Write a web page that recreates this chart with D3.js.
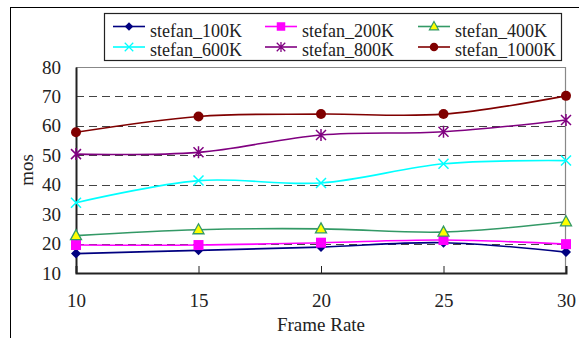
<!DOCTYPE html>
<html>
<head>
<meta charset="utf-8">
<script src="https://cdn.jsdelivr.net/npm/d3@7"></script>
<style>
  body { margin: 0; background: #fff; }
  svg text { font-family: "Liberation Serif", "DejaVu Serif", serif; fill: #222; }
</style>
</head>
<body>
<div id="chart"></div>
<script>
var frameRates = [10, 15, 20, 25, 30];
var yTicks = [10, 20, 30, 40, 50, 60, 70, 80];
var seriesNames = ["stefan_100K", "stefan_200K", "stefan_400K", "stefan_600K", "stefan_800K", "stefan_1000K"];

var s100K = [16.6, 17.7, 18.8, 20.3, 17.1];
var s200K = [19.5, 19.5, 20.3, 21.2, 19.8];
var s400K = [22.7, 24.7, 25.0, 23.9, 27.4];
var s600K = [33.9, 41.4, 40.6, 47.1, 48.2];
var s800K = [50.4, 51.0, 56.9, 58.0, 62.0];
var s1000K = [57.8, 63.2, 64.0, 64.0, 70.2];

var W = 579, H = 338;
var margin = {top: 67, right: 13, bottom: 65, left: 76},
    width = W - margin.left - margin.right,
    height = H - margin.top - margin.bottom;

var svg = d3.select("#chart")
  .append("svg")
    .attr("width", W)
    .attr("height", H);

// outer frame
svg.append("rect")
  .attr("x", 10.5).attr("y", 7.5)
  .attr("width", 580).attr("height", 340)
  .attr("fill", "none").attr("stroke", "#000").attr("stroke-width", 1);

var g = svg.append("g")
  .attr("transform", "translate(" + margin.left + "," + margin.top + ")");

var x = d3.scaleLinear().domain([10, 30]).range([0, width]);
var y = d3.scaleLinear().domain([10, 80]).range([height, 0]);

// dashed grid
g.selectAll(".grid")
  .data(yTicks.filter(function(d){ return d > 10 && d < 80; }))
  .enter().append("line")
    .attr("x1", 0).attr("x2", width)
    .attr("y1", function(d){ return Math.round(y(d)) + 0.5; })
    .attr("y2", function(d){ return Math.round(y(d)) + 0.5; })
    .attr("stroke", "#444").attr("stroke-width", 1.2)
    .attr("stroke-dasharray", "8,5");

// top and right frame of plot
g.append("line").attr("x1", 0).attr("x2", width).attr("y1", 0.5).attr("y2", 0.5)
  .attr("stroke", "#888").attr("stroke-width", 1.2);
g.append("line").attr("x1", width - 0.5).attr("x2", width - 0.5).attr("y1", 0).attr("y2", height)
  .attr("stroke", "#888").attr("stroke-width", 1.2);

// axes
var xAxis = g.append("g")
  .attr("transform", "translate(0," + height + ")")
  .call(d3.axisBottom(x).tickValues(frameRates).tickSize(-7).tickPadding(21).tickFormat(d3.format("d")));
xAxis.attr("font-family", null);
xAxis.select(".domain").attr("stroke", "#222").attr("stroke-width", 2);
xAxis.selectAll(".tick line").attr("stroke", "#222");
xAxis.selectAll(".tick text").style("font-size", "19px");

var yAxis = g.append("g")
  .call(d3.axisLeft(y).tickValues(yTicks).tickSize(0).tickPadding(15));
yAxis.attr("font-family", null);
yAxis.select(".domain").attr("stroke", "#222").attr("stroke-width", 2);
yAxis.selectAll(".tick text").style("font-size", "19px");

// axis titles
svg.append("text")
  .attr("transform", "translate(33," + (margin.top + height / 2) + ") rotate(-90)")
  .attr("text-anchor", "middle")
  .style("font-size", "19px")
  .text("mos");
svg.append("text")
  .attr("x", margin.left + x(20)).attr("y", 331)
  .attr("text-anchor", "middle")
  .style("font-size", "19px")
  .text("Frame Rate");

var series = [
  {name: seriesNames[0], values: s100K, color: "#000080", marker: "diamond", fill: "#000080"},
  {name: seriesNames[1], values: s200K, color: "#ff00ff", marker: "square", fill: "#ff00ff"},
  {name: seriesNames[2], values: s400K, color: "#339966", marker: "triangle", fill: "#ffff00"},
  {name: seriesNames[3], values: s600K, color: "#00ffff", marker: "x", fill: "none"},
  {name: seriesNames[4], values: s800K, color: "#800080", marker: "star", fill: "none"},
  {name: seriesNames[5], values: s1000K, color: "#800000", marker: "circle", fill: "#800000"}
];

function drawMarker(sel, s) {
  if (s.marker === "diamond") {
    sel.append("path").attr("d", "M0,-5L5,0L0,5L-5,0Z").attr("fill", s.fill);
  } else if (s.marker === "square") {
    sel.append("rect").attr("x", -5).attr("y", -5).attr("width", 10).attr("height", 10).attr("fill", s.fill);
  } else if (s.marker === "triangle") {
    sel.append("path").attr("d", "M0,-6L5.5,4L-5.5,4Z").attr("fill", s.fill)
      .attr("stroke", s.color).attr("stroke-width", 1.3);
  } else if (s.marker === "x") {
    sel.append("path").attr("d", "M-5,-5L5,5M-5,5L5,-5").attr("stroke", s.color).attr("stroke-width", 1.5);
  } else if (s.marker === "star") {
    sel.append("path").attr("d", "M-5,-5L5,5M-5,5L5,-5M0,-6L0,6").attr("stroke", s.color).attr("stroke-width", 1.5);
  } else if (s.marker === "circle") {
    sel.append("circle").attr("r", 5).attr("fill", s.fill);
  }
}

var line = d3.line()
  .x(function(d, i){ return x(frameRates[i]); })
  .y(function(d){ return y(d); })
  .curve(d3.curveCatmullRom.alpha(0.5));

series.forEach(function(s) {
  g.append("path")
    .datum(s.values)
    .attr("d", line)
    .attr("fill", "none")
    .attr("stroke", s.color)
    .attr("stroke-width", 1.6);
  s.values.forEach(function(v, i) {
    var m = g.append("g").attr("transform", "translate(" + x(frameRates[i]) + "," + y(v) + ")");
    drawMarker(m, s);
  });
});

// legend
var legend = svg.append("g");
legend.append("rect")
  .attr("x", 104.5).attr("y", 13.5).attr("width", 457).attr("height", 47)
  .attr("fill", "#fff").attr("stroke", "#222").attr("stroke-width", 1.2);

var colX = [113, 265, 418];
var rowY = [26.5, 47];
series.forEach(function(s, i) {
  var cx = colX[i % 3], cy = rowY[Math.floor(i / 3)];
  legend.append("line")
    .attr("x1", cx).attr("x2", cx + 32).attr("y1", cy).attr("y2", cy)
    .attr("stroke", s.color).attr("stroke-width", 1.6);
  drawMarker(legend.append("g").attr("transform", "translate(" + (cx + 16) + "," + cy + ") scale(0.85)"), s);
  legend.append("text")
    .attr("x", cx + 37).attr("y", i < 3 ? 36.5 : 55.5)
    .style("font-size", "18px")
    .text(s.name);
});
</script>
</body>
</html>
